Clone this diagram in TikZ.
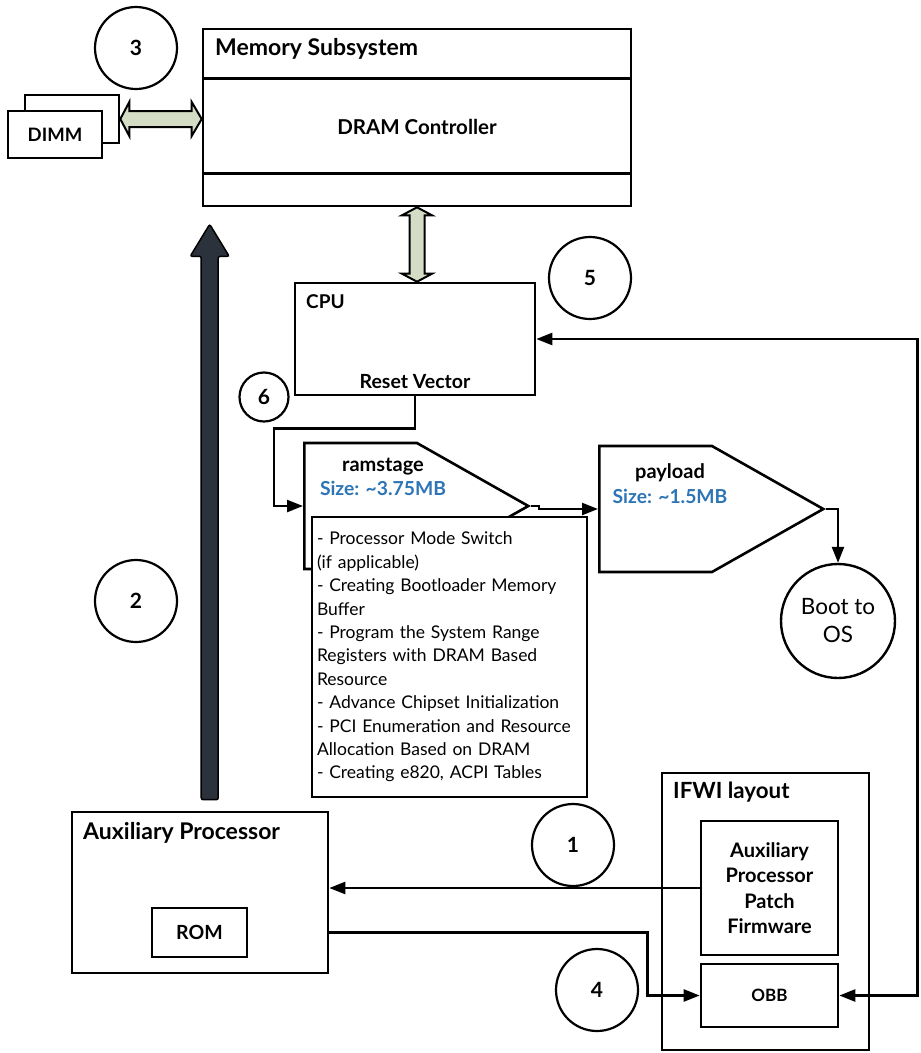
\documentclass[tikz,border=0pt]{standalone}
\usepackage{fontspec}
\setmainfont{Lato}
\usetikzlibrary{positioning,arrows.meta,shapes.symbols,calc}

\definecolor{busgreen}{HTML}{D5DCC6}
\definecolor{bootarrow}{HTML}{2B323C}
\definecolor{sizeblue}{HTML}{2E75B6}

\tikzset{
  box/.style={draw, line width=2.6pt, fill=white, inner sep=0pt},
  stepnum/.style={circle, draw, line width=2.2pt, minimum size=82pt, inner sep=0pt,
                  font=\bfseries\fontsize{21}{25}\selectfont},
  flow/.style={line width=2.4pt, -{Triangle[length=16pt,width=12pt]}},
  bus/.style={draw, line width=2pt, fill=busgreen, line join=miter},
  title/.style={font=\bfseries\fontsize{23}{27}\selectfont, inner sep=0pt},
  lbl/.style={font=\bfseries\fontsize{20}{24}\selectfont, inner sep=0pt},
  stage/.style={signal, signal to=east, signal pointer angle=59, draw, line width=2.6pt,
                fill=white, minimum width=224pt, minimum height=126pt, inner sep=0pt, anchor=west},
}

\begin{document}
\begin{tikzpicture}[x=1pt, y=-1pt]
\useasboundingbox (0,0) rectangle (921,1053);

% memory subsystem with its DRAM controller band
\node[box, minimum width=428pt, minimum height=177pt] (mem) at (417,117.5) {};
\draw[line width=2.6pt] ($(mem.north west)+(0,51)$) -- ($(mem.north east)+(0,51)$);
\draw[line width=2.6pt] ($(mem.north west)+(0,146)$) -- ($(mem.north east)+(0,146)$);
\node[title, anchor=base west] (memtitle) at (215,55) {Memory Subsystem};
\node[lbl, font=\bfseries\fontsize{20.5}{24}\selectfont] (dramctl) at (417,127) {DRAM Controller};

% DIMMs
\node[box, minimum width=94pt, minimum height=48pt] (dimmb) at (72,119) {};
\node[box, minimum width=94pt, minimum height=47pt, font=\bfseries\fontsize{18.5}{22}\selectfont] (dimm) at (55,134.5) {DIMM};

% memory buses
\draw[bus] (dimmb.east) -- ++(9,-17) -- ++(0,9) -- ($(dimmb.east -| mem.west)+(-10,-8)$)
  -- ++(0,-9) -- (dimmb.east -| mem.west) -- ++(-10,17) -- ++(0,-9)
  -- ($(dimmb.east)+(9,8)$) -- ++(0,9) -- cycle;

% CPU
\node[box, minimum width=240pt, minimum height=112pt] (cpu) at (415,339) {};
\node[title, font=\bfseries\fontsize{19}{23}\selectfont, anchor=base west] (cputitle) at (306,308) {CPU};
\node[lbl, font=\bfseries\fontsize{19.5}{23}\selectfont, anchor=base] (resetvec) at (415,388) {Reset Vector};

\draw[bus] (mem.south) -- ++(-15,8) -- ++(7.5,0) -- ($(mem.south |- cpu.north)+(-7.5,-8)$)
  -- ++(-7.5,0) -- (mem.south |- cpu.north) -- ++(15,-8) -- ++(-7.5,0)
  -- ($(mem.south)+(7.5,8)$) -- ++(7.5,0) -- cycle;

% step numbers
\node[stepnum] (s3) at (136,48) {3};
\node[stepnum] (s5) at (590,278) {5};
\node[stepnum, minimum size=49pt] (s6) at (264,397) {6};
\node[stepnum] (s2) at (136,601) {2};
\node[stepnum] (s1) at (573,845) {1};
\node[stepnum] (s4) at (597,990) {4};

% ramstage and payload
\node[stage] (ram) at (303,506) {};
\node[lbl, anchor=base] (ramname) at (383,471) {ramstage};
\node[lbl, font=\bfseries\fontsize{19.3}{23}\selectfont, text=sizeblue, anchor=base] (ramsize) at (383,495) {Size: \textasciitilde3.75MB};

\node[stage] (pay) at (598,509) {};
\node[lbl, anchor=base] (payname) at (670,478) {payload};
\node[lbl, font=\bfseries\fontsize{19.3}{23}\selectfont, text=sizeblue, anchor=base] (paysize) at (670,503) {Size: \textasciitilde1.5MB};

\node[box, minimum width=275pt, minimum height=280pt, text width=265pt, inner xsep=5pt,
      align=left, font=\fontsize{17.5}{23.4}\selectfont] (ramtasks) at (449.5,657) {%
  - Processor Mode Switch\\
  (if applicable)\\
  - Creating Bootloader Memory\\
  Buffer\\
  - Program the System Range\\
  Registers with DRAM Based\\
  Resource\\
  - Advance Chipset Initialization\\
  - PCI Enumeration and Resource\\
  Allocation Based on DRAM\\
  - Creating e820, ACPI Tables};

\node[circle, draw, line width=2.4pt, minimum size=114pt, inner sep=0pt, align=center,
      font=\fontsize{22.5}{28}\selectfont] (boot) at (838,621) {Boot to\\OS};

% auxiliary processor
\node[box, minimum width=256pt, minimum height=161pt] (aux) at (200,892.5) {};
\node[title, anchor=base west] (auxtitle) at (83,839) {Auxiliary Processor};
\node[box, minimum width=95pt, minimum height=49pt, font=\bfseries\fontsize{19.5}{23}\selectfont] (rom) at (199.5,932.5) {ROM};

% IFWI layout
\node[box, minimum width=207pt, minimum height=277pt] (ifwi) at (765.5,911.5) {};
\node[title, font=\bfseries\fontsize{22.3}{26}\selectfont, anchor=base west] (ifwititle) at (673,798) {IFWI layout};
\node[box, minimum width=137pt, minimum height=134pt, align=center,
      font=\bfseries\fontsize{20}{25.3}\selectfont] (patch) at (769.5,888) {Auxiliary\\Processor\\Patch\\Firmware};
\node[box, minimum width=137pt, minimum height=63pt, font=\bfseries\fontsize{17}{21}\selectfont] (obb) at (769.5,995.5) {OBB};

% auxiliary processor brings up memory
\coordinate (auxtop) at ($(aux.north west)+(139,-11)$);
\coordinate (memreach) at ($(auxtop |- mem.south)+(0,17)$);
\draw[line width=1.5pt, fill=bootarrow, rounded corners=2pt]
  ($(auxtop)+(-8.5,0)$) -- ($(memreach)+(-8.5,32)$) -- ($(memreach)+(-19.5,32)$) -- (memreach)
  -- ($(memreach)+(19.5,32)$) -- ($(memreach)+(8.5,32)$) -- ($(auxtop)+(8.5,0)$) -- cycle;

% flow
\draw[flow] (cpu.south) -- ++(0,32) -| ($(ram.west)+(-29,0)$) -- (ram.west);
\draw[flow] (ram.east) -- ++(8,0) |- (pay.west);
\draw[flow] (pay.east) -| (boot.north);
\draw[flow] (patch.west) -- (patch.west -| aux.east);
\draw[flow] (rom -| aux.east) -- ++(318,0) |- (obb.west);
\draw[line width=2.4pt, {Triangle[length=16pt,width=12pt]}-{Triangle[length=16pt,width=12pt]}]
  (obb.east) -- ++(78,0) |- (cpu.east);

\end{tikzpicture}
\end{document}
